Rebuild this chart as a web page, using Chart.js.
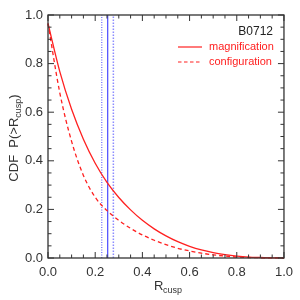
<!DOCTYPE html>
<html>
<head>
<meta charset="utf-8">
<script src="https://cdn.jsdelivr.net/npm/chart.js@4/dist/chart.umd.min.js"></script>
<style>
html,body{margin:0;padding:0;background:#fff;}
#wrap{width:300px;height:300px;position:relative;}
</style>
</head>
<body>
<div id="wrap"><canvas id="c" width="300" height="300"></canvas></div>
<script>
// ---- data ----
const xValues = [0,0.05,0.10,0.15,0.20,0.25,0.30,0.35,0.40,0.45,0.50,0.55,0.60,0.65,0.70,0.75,0.80,0.85,0.90,0.95,1.00];
const magnification = [0.965,0.767,0.612,0.489,0.390,0.311,0.249,0.198,0.155,0.120,0.091,0.067,0.048,0.033,0.022,0.014,0.008,0.004,0.002,0.0005,0];
const configuration = [0.965,0.680,0.480,0.340,0.250,0.195,0.155,0.122,0.095,0.073,0.055,0.040,0.029,0.020,0.013,0.008,0.004,0.002,0.001,0.0003,0];
const observedR = 0.253;
const observedRange = [0.228, 0.277];
const xTicks = [0,0.2,0.4,0.6,0.8,1.0];
const yTicks = [0,0.2,0.4,0.6,0.8,1.0];
const objectName = "B0712";
const seriesNames = ["magnification","configuration"];

const RED = '#ff2020';
const BLUE = '#4848ff';
const AX = '#333333';

function pts(xs, ys){ return xs.map((x,i)=>({x:x,y:ys[i]})); }
function vline(x){ return [{x:x,y:0},{x:x,y:1}]; }

const decor = {
  id:'decor',
  afterDraw(chart){
    const ctx = chart.ctx, a = chart.chartArea;
    const xs = chart.scales.x, ys = chart.scales.y;
    ctx.save();
    ctx.strokeStyle = AX; ctx.lineWidth = 1.3;
    ctx.strokeRect(a.left, a.top, a.right-a.left, a.bottom-a.top);
    ctx.lineWidth = 1;
    for(let k=0;k<=20;k++){
      const v = k*0.05;
      const L = (k%4===0)?6:3.5;
      const px = xs.getPixelForValue(v);
      const py = ys.getPixelForValue(v);
      ctx.beginPath();
      ctx.moveTo(px, a.bottom); ctx.lineTo(px, a.bottom-L);
      ctx.moveTo(px, a.top); ctx.lineTo(px, a.top+L);
      ctx.moveTo(a.left, py); ctx.lineTo(a.left+L, py);
      ctx.moveTo(a.right, py); ctx.lineTo(a.right-L, py);
      ctx.stroke();
    }
    // legend
    ctx.textBaseline = 'middle';
    ctx.fillStyle = '#222';
    ctx.font = '12px "Liberation Sans", Arial, sans-serif';
    ctx.textAlign = 'right';
    ctx.fillText(objectName, 273, 32);
    ctx.font = '11px "Liberation Sans", Arial, sans-serif';
    ctx.textAlign = 'left';
    ctx.fillStyle = RED;
    ctx.fillText(seriesNames[0], 209, 47);
    ctx.fillText(seriesNames[1], 209, 62);
    ctx.strokeStyle = RED; ctx.lineWidth = 1.2;
    ctx.beginPath(); ctx.moveTo(178,47); ctx.lineTo(202,47); ctx.stroke();
    ctx.setLineDash([3.5,2.5]);
    ctx.beginPath(); ctx.moveTo(178,62); ctx.lineTo(202,62); ctx.stroke();
    ctx.setLineDash([]);
    // axis titles
    ctx.fillStyle = '#333';
    ctx.textBaseline = 'alphabetic';
    ctx.font = '13px "Liberation Sans", Arial, sans-serif';
    ctx.textAlign = 'left';
    ctx.fillText('R', 154, 290);
    ctx.font = '9px "Liberation Sans", Arial, sans-serif';
    ctx.fillText('cusp', 163, 293);
    // y title rotated
    ctx.translate(18, 138);
    ctx.rotate(-Math.PI/2);
    const big = '13px "Liberation Sans", Arial, sans-serif';
    const small = '9px "Liberation Sans", Arial, sans-serif';
    const parts = [['CDF  P(>R',big,0],['cusp',small,3],[')',big,0]];
    let w = 0;
    parts.forEach(p=>{ctx.font=p[1]; w+=ctx.measureText(p[0]).width;});
    let x0 = -w/2;
    parts.forEach(p=>{ctx.font=p[1]; ctx.fillText(p[0], x0, p[2]); x0+=ctx.measureText(p[0]).width;});
    ctx.restore();
  }
};

new Chart(document.getElementById('c'), {
  type:'line',
  data:{
    datasets:[
      {data:pts(xValues,magnification), borderColor:RED, borderWidth:1.3, pointRadius:0, cubicInterpolationMode:'monotone', clip:false},
      {data:pts(xValues,configuration), borderColor:RED, borderWidth:1.3, borderDash:[4,3], pointRadius:0, cubicInterpolationMode:'monotone', clip:false},
      {data:vline(observedR), borderColor:BLUE, borderWidth:1.2, pointRadius:0},
      {data:vline(observedRange[0]), borderColor:'#4a4aff', borderWidth:1, borderDash:[1,1.5], pointRadius:0},
      {data:vline(observedRange[1]), borderColor:'#8c8cff', borderWidth:1.5, borderDash:[1.5,1.5], pointRadius:0}
    ]
  },
  options:{
    responsive:false, animation:false, devicePixelRatio:1,
    layout:{padding:{top:15,right:15,left:0,bottom:0}},
    plugins:{legend:{display:false}, tooltip:{enabled:false}},
    scales:{
      x:{type:'linear', min:0, max:1,
        afterBuildTicks(s){ s.ticks = xTicks.map(v=>({value:v})); },
        afterFit(s){ s.height = 42; },
        grid:{display:false, drawTicks:false}, border:{display:false},
        ticks:{padding:7, color:'#333', font:{family:'"Liberation Sans", Arial, sans-serif', size:13}, maxRotation:0,
          callback:v=>v.toFixed(1)}},
      y:{type:'linear', min:0, max:1,
        afterBuildTicks(s){ s.ticks = yTicks.map(v=>({value:v})); },
        afterFit(s){ s.width = 48; },
        grid:{display:false, drawTicks:false}, border:{display:false},
        ticks:{padding:5, color:'#333', font:{family:'"Liberation Sans", Arial, sans-serif', size:13},
          callback:v=>v.toFixed(1)}}
    }
  },
  plugins:[decor]
});
</script>
</body>
</html>
